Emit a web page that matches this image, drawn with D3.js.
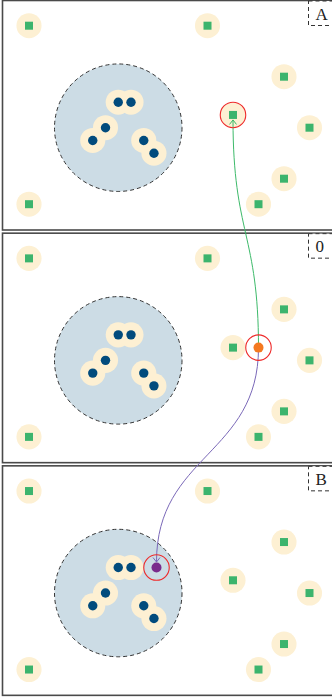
<!DOCTYPE html>
<html><head><meta charset="utf-8">
<script src="https://cdn.jsdelivr.net/npm/d3@7"></script>
<style>html,body{margin:0;padding:0;background:#fff;overflow:hidden}svg{display:block}</style>
</head><body>
<script>
// ---- data ----
const panelLabels = ["A", "0", "B"];
const squareX = [0, 14, 20, 16, 22, 20, 18, 0];
const squareY = [0, 0, 4, 7, 8, 12, 14, 14];
const blueX = [7, 8, 6, 5, 9, 9.8];
const blueY = [6, 6, 8, 9, 9, 10];
const regionCenter = [7, 8];
const regionRadius = 5;
const highlightA = [16, 7];   // square in panel A
const orangePt = [18, 7];     // panel 0
const purplePt = [10, 6];     // panel B

const W = 332, H = 698;
const unit = 12.75;
const svg = d3.select("body").append("svg").attr("width", W).attr("height", H);

const x = d3.scaleLinear().domain([0, 22]).range([29, 29 + 22 * unit]);
const panelTop = i => 0.5 + 232.67 * i;
const yScales = panelLabels.map((_, i) => d3.scaleLinear().domain([0, 14]).range([panelTop(i) + 25.2, panelTop(i) + 25.2 + 14 * unit]));
const rScale = d3.scaleLinear().domain([0, 1]).range([0, unit]);

const defs = svg.append("defs");
function marker(id, color) {
  defs.append("marker").attr("id", id).attr("markerUnits", "userSpaceOnUse")
    .attr("viewBox", "-6 -5 8 10").attr("refX", 0).attr("refY", 0)
    .attr("markerWidth", 8).attr("markerHeight", 10).attr("orient", "auto")
    .append("path").attr("d", "M-4.5,-3.5 L0,0 L-4.5,3.5").attr("fill", "none")
    .attr("stroke", color).attr("stroke-width", 1);
}
marker("mg", "#3dba6a");
marker("mp", "#7a68b8");

const squares = squareX.map((v, i) => [v, squareY[i]]);
const blues = blueX.map((v, i) => [v, blueY[i]]);

panelLabels.forEach((lab, i) => {
  const y = yScales[i];
  const g = svg.append("g");
  g.append("rect").attr("x", 2.5).attr("y", panelTop(i)).attr("width", 345).attr("height", 229.5)
    .attr("fill", "#fff").attr("stroke", "#4a4a4a").attr("stroke-width", 1.6);
  g.append("circle").attr("cx", x(regionCenter[0])).attr("cy", y(regionCenter[1])).attr("r", rScale(regionRadius))
    .attr("fill", "#ccdce5").attr("stroke", "#333").attr("stroke-width", 1).attr("stroke-dasharray", "4,3");
  // halos
  g.selectAll(".halo").data(squares.concat(blues)).join("circle")
    .attr("cx", d => x(d[0])).attr("cy", d => y(d[1])).attr("r", rScale(1) - 0.2).attr("fill", "#fdf0d3");
  g.selectAll(".sq").data(squares).join("rect")
    .attr("x", d => x(d[0]) - 4).attr("y", d => y(d[1]) - 4).attr("width", 8).attr("height", 8).attr("fill", "#3cb46d");
  g.selectAll(".bd").data(blues).join("circle")
    .attr("cx", d => x(d[0])).attr("cy", d => y(d[1])).attr("r", 4.7).attr("fill", "#014b7d");
  // label box
  g.append("rect").attr("x", 308.5).attr("y", panelTop(i) + 0.5).attr("width", 40).attr("height", 24.5)
    .attr("fill", "#fff").attr("stroke", "#333").attr("stroke-width", 1).attr("stroke-dasharray", "4,3");
  g.append("text").attr("x", 315.5).attr("y", panelTop(i) + 19).text(lab)
    .attr("font-family", "'Liberation Serif', 'DejaVu Serif', serif").attr("font-size", 17).attr("fill", "#222");
});

// links
const yA = yScales[0], y0 = yScales[1], yB = yScales[2];
const link = d3.linkVertical();
const src = [x(orangePt[0]), y0(orangePt[1])];
svg.append("path").attr("d", link({source: src, target: [x(highlightA[0]), yA(highlightA[1]) + 5]}))
  .attr("fill", "none").attr("stroke", "#3dba6a").attr("stroke-width", 1).attr("marker-end", "url(#mg)");
svg.append("path").attr("d", link({source: src, target: [x(purplePt[0]), yB(purplePt[1]) - 5.5]}))
  .attr("fill", "none").attr("stroke", "#7a68b8").attr("stroke-width", 1).attr("marker-end", "url(#mp)");

// special points
svg.append("circle").attr("cx", src[0]).attr("cy", src[1]).attr("r", 5).attr("fill", "#f47920");
svg.append("circle").attr("cx", x(purplePt[0])).attr("cy", yB(purplePt[1])).attr("r", 5).attr("fill", "#7a2a8c");
// red rings
[[highlightA, yA], [orangePt, y0], [purplePt, yB]].forEach(([p, ys]) => {
  svg.append("circle").attr("cx", x(p[0])).attr("cy", ys(p[1])).attr("r", rScale(1))
    .attr("fill", "none").attr("stroke", "#ee2a2a").attr("stroke-width", 1.1);
});
</script>
</body></html>
